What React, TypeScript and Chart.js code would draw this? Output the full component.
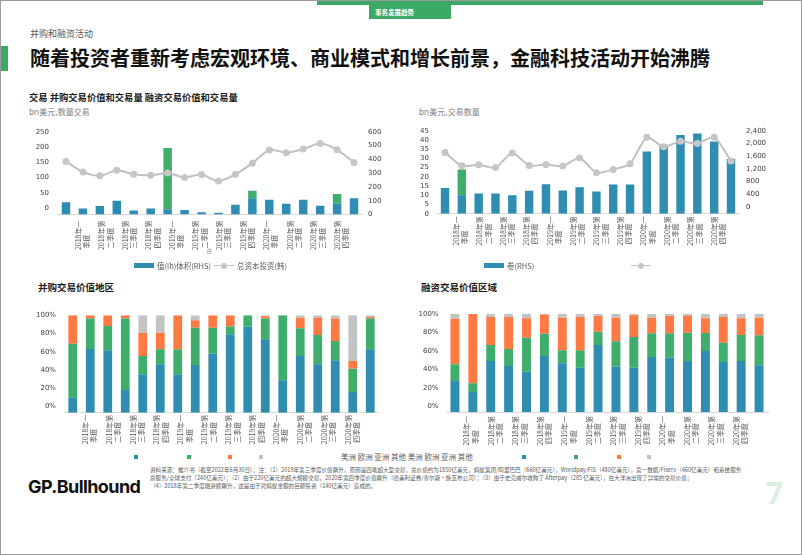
import React, { useEffect, useRef } from 'react';
import { Chart, registerables } from 'chart.js';

Chart.register(...registerables);

// ---------------- data ----------------
const PERIODS = ['1', '2', '3', '4', '5', '6', '7', '8', '9', '10', '11', '12', '13', '14', '15', '16', '17', '18'];

const TICK_LABELS = [
  '2018年一季度', '2018年第二季度', '2018年第三季度', '2018年第四季度',
  '2019年一季度', '2019年第二季度', '2019年第三季度', '2019年第四季度',
  '2020年一季度', '2020年第二季度', '2020年第三季度', '2020年第四季度',
];

// Chart 1: M&A value (bn USD) and volume
const MA_VALUE_MAIN = [40, 20, 28, 45, 13, 20, 17, 15, 7, 6, 32, 53, 48, 35, 48, 29, 35, 53];
const MA_VALUE_SPIKE = [0, 0, 0, 0, 0, 0, 201, 0, 0, 0, 0, 25, 0, 0, 0, 0, 32, 0];
const MA_VOLUME = [384, 308, 280, 320, 291, 284, 301, 268, 289, 242, 291, 372, 467, 448, 474, 514, 469, 377];

// Chart 2: financing value (bn USD) and volume
const FIN_VALUE_MAIN = [14, 10, 11, 11, 10, 12.5, 16, 12.6, 14.4, 12, 15.8, 15.8, 33.8, 37.4, 42.7, 43.6, 39.2, 29.7];
const FIN_VALUE_SPIKE = [0, 14, 0, 0, 0, 0, 0, 0, 0, 0, 0, 0, 0, 0, 0, 0, 0, 0];
const FIN_VOLUME = [1720, 1298, 1329, 1246, 1700, 1308, 1339, 1288, 1545, 1082, 1185, 1360, 2194, 1895, 2070, 1998, 2194, 1452];

// Chart 3: M&A value by region (%)
const MA_AMERICAS = [15.4, 65.4, 64, 23.3, 39.4, 49.7, 39.4, 49, 60.6, 80.5, 88.4, 75.3, 33.2, 58.2, 49.7, 53.8, 21.2, 65.1];
const MA_EUROPE = [55.5, 31.2, 25, 73.3, 18.8, 15.4, 25.7, 38.3, 26.7, 7.9, 11.6, 21.3, 66.8, 28.4, 30.1, 19.8, 24, 31.5];
const MA_ASIA = [29.1, 3.4, 11, 3.4, 24, 17.1, 34.9, 7.6, 12.7, 11.6, 0, 2.4, 0, 11, 17.8, 23, 7.9, 1.7];
const MA_OTHER = [0, 0, 0, 0, 17.8, 17.8, 0, 5.1, 0, 0, 0, 1, 0, 2.4, 2.4, 3.4, 46.9, 1.7];

// Chart 4: financing value by region (%)
const FIN_AMERICAS = [31.5, 20.3, 51.9, 46.8, 41, 57, 49.5, 45.1, 68.1, 46.4, 45.1, 55.9, 55.3, 51.9, 62, 50.9, 51.9, 47.5];
const FIN_EUROPE = [17, 8.9, 16.2, 17.3, 34.6, 22.7, 13.2, 17.6, 13.6, 25.5, 31.2, 24.1, 24.7, 28.8, 18.3, 19.6, 26.4, 30.5];
const FIN_ASIA = [46.4, 70.5, 28.5, 32.5, 19.7, 19.6, 33.2, 33.9, 16, 24, 22, 15.9, 17.6, 16.9, 15, 26.1, 17, 17.9];
const FIN_OTHER = [5.1, 0.3, 3.4, 3.4, 4.7, 0.7, 4.1, 3.4, 2.3, 4.1, 1.7, 4.1, 2.4, 2.4, 4.7, 3.4, 4.7, 4.1];

const C1_LEFT_TICKS = [0, 50, 100, 150, 200, 250];
const C1_RIGHT_TICKS = [0, 100, 200, 300, 400, 500, 600];
const C2_LEFT_TICKS = [0, 5, 10, 15, 20, 25, 30, 35, 40, 45];
const C2_RIGHT_TICKS = [0, 400, 800, 1200, 1600, 2000, 2400];
const PCT_TICKS = [0, 20, 40, 60, 80, 100];

const REGIONS = ['美洲', '欧洲', '亚洲', '其他'];

// ---------------- style ----------------
const BLUE = '#2E8DB1';
const GREEN = '#3FAD6B';
const ORANGE = '#FF7A43';
const LIGHT = '#C3C3C3';
const LINE_GRAY = '#C0C0C0';
const HEADER_GREEN = '#3BAA67';
const CJK = "'Noto Sans CJK SC', 'Noto Sans', sans-serif";
const NUM_FONT = { family: "'DejaVu Sans', sans-serif", size: 7 };
const CAT_FONT = { family: CJK, size: 7 };

function splitLabel(s: string): string[] {
  const first = s.slice(0, 6);
  let second = s.slice(6);
  while (second.length < 4) second += '\u3000';
  return [first, second];
}

function labelAxis(min: number, max: number, height: number, padding: number) {
  return {
    type: 'linear',
    position: 'bottom',
    min,
    max,
    grid: { display: false, drawTicks: false },
    border: { display: true, color: '#DADADA', width: 1 },
    afterBuildTicks: (ax: any) => {
      ax.ticks = TICK_LABELS.map((_, i) => ({ value: i }));
    },
    afterFit: (ax: any) => {
      ax.height = height;
    },
    ticks: {
      autoSkip: false,
      minRotation: 90,
      maxRotation: 90,
      padding,
      font: CAT_FONT,
      color: '#595959',
      callback: (v: any) => splitLabel(TICK_LABELS[Math.round(Number(v))] || ''),
    },
  };
}

function tickAxis(position: string, min: number, max: number, ticks: number[], width: number, padding: number, fmt: (v: number) => string) {
  return {
    type: 'linear',
    position,
    min,
    max,
    grid: { display: false, drawTicks: false },
    border: { display: false },
    afterBuildTicks: (ax: any) => {
      ax.ticks = ticks.map((v) => ({ value: v }));
    },
    afterFit: (ax: any) => {
      ax.width = width;
    },
    ticks: { autoSkip: false, padding, font: NUM_FONT, color: '#404040', callback: (v: any) => fmt(Number(v)) },
  };
}

function baseOptions(padTop: number, padRight: number) {
  return {
    responsive: false,
    animation: false,
    devicePixelRatio: 1,
    events: [],
    layout: { padding: { top: padTop, right: padRight, left: 0, bottom: 0 }, autoPadding: false },
    plugins: { legend: { display: false }, tooltip: { enabled: false } },
  };
}

const hiddenCat = { type: 'category', display: false, offset: true, stacked: true };

function lineDataset(data: number[], yAxisID: string) {
  return {
    type: 'line',
    data,
    xAxisID: 'x',
    yAxisID,
    borderColor: LINE_GRAY,
    borderWidth: 2,
    pointRadius: 3.5,
    pointBackgroundColor: '#C6C6C6',
    pointBorderWidth: 0,
    tension: 0.25,
    order: 0,
  };
}

function barDataset(data: number[], color: string, yAxisID: string) {
  return {
    type: 'bar',
    data,
    xAxisID: 'x',
    yAxisID,
    backgroundColor: color,
    barPercentage: 0.5,
    categoryPercentage: 1,
    stack: 's',
    order: 1,
  };
}

const fmtInt = (v: number) => String(v);
const fmtComma = (v: number) => v.toLocaleString('en-US');
const fmtPct = (v: number) => v + '%';

function chart1Config() {
  return {
    type: 'bar',
    data: {
      labels: PERIODS,
      datasets: [
        lineDataset(MA_VOLUME, 'y1'),
        barDataset(MA_VALUE_MAIN, BLUE, 'yb'),
        barDataset(MA_VALUE_SPIKE, GREEN, 'yb'),
      ],
    },
    options: {
      ...baseOptions(11, 0),
      scales: {
        x: { ...hiddenCat, labels: PERIODS },
        xl: labelAxis(-0.331, 11.54, 39.5, 6),
        y: tickAxis('left', -21, 250, C1_LEFT_TICKS, 36.5, 8.5, fmtInt),
        yb: { type: 'linear', display: false, min: 0, max: 271, stacked: true },
        y1: tickAxis('right', 0, 600, C1_RIGHT_TICKS, 28.5, 5.5, fmtInt),
      },
    },
  };
}

function chart2Config() {
  return {
    type: 'bar',
    data: {
      labels: PERIODS,
      datasets: [
        lineDataset(FIN_VOLUME, 'y1'),
        barDataset(FIN_VALUE_MAIN, BLUE, 'y'),
        barDataset(FIN_VALUE_SPIKE, GREEN, 'y'),
      ],
    },
    options: {
      ...baseOptions(11.5, 0),
      scales: {
        x: { ...hiddenCat, labels: PERIODS },
        xl: labelAxis(-0.289, 11.54, 40.3, 2.5),
        y: { ...tickAxis('left', 0, 45, C2_LEFT_TICKS, 35.6, 7.6, fmtInt), stacked: true },
        y1: tickAxis('right', -210, 2400, C2_RIGHT_TICKS, 41.6, 6.6, fmtComma),
      },
    },
  };
}

function regionConfig(a: number[], e: number[], as: number[], o: number[], padTop: number, padRight: number,
  lblMin: number, lblMax: number, xH: number, xPad: number, leftW: number, leftPad: number, pctMin: number) {
  return {
    type: 'bar',
    data: {
      labels: PERIODS,
      datasets: [
        barDataset(a, BLUE, 'yb'),
        barDataset(e, GREEN, 'yb'),
        barDataset(as, ORANGE, 'yb'),
        barDataset(o, LIGHT, 'yb'),
      ],
    },
    options: {
      ...baseOptions(padTop, padRight),
      scales: {
        x: { ...hiddenCat, labels: PERIODS },
        xl: labelAxis(lblMin, lblMax, xH, xPad),
        y: tickAxis('left', pctMin, 100, PCT_TICKS, leftW, leftPad, fmtPct),
        yb: { type: 'linear', display: false, min: 0, max: 100, stacked: true },
      },
    },
  };
}

function ChartCanvas({ left, top, width, height, make }: { left: number; top: number; width: number; height: number; make: () => any }) {
  const ref = useRef<HTMLCanvasElement | null>(null);
  useEffect(() => {
    if (!ref.current) return;
    const chart = new Chart(ref.current, make());
    return () => chart.destroy();
  }, []);
  return (
    <canvas
      ref={ref}
      width={width}
      height={height}
      style={{ position: 'absolute', left, top, width, height, display: 'block' }}
    />
  );
}

function T({ x, y, size, color = '#262626', weight = 400, family = CJK, children, style = {} }: any) {
  return (
    <div
      style={{
        position: 'absolute',
        left: x,
        top: y - size / 2,
        fontSize: size,
        lineHeight: `${size}px`,
        height: size,
        color,
        fontWeight: weight,
        fontFamily: family,
        whiteSpace: 'nowrap',
        ...style,
      }}
    >
      {children}
    </div>
  );
}

function Box({ x, y, w, h, color, style = {} }: any) {
  return <div style={{ position: 'absolute', left: x, top: y, width: w, height: h, background: color, ...style }} />;
}

function LineSwatch({ x, y }: { x: number; y: number }) {
  return (
    <>
      <Box x={x} y={y - 0.75} w={20} h={1.5} color={LINE_GRAY} />
      <Box x={x + 7} y={y - 3} w={6} h={6} color="#C6C6C6" style={{ borderRadius: '50%' }} />
    </>
  );
}

const FOOT_1 = '资料来源：推介书（截至2022年6月30日）；注：（1）2019年第三季度价值飙升，原因是四笔超大型交易，总价值约为1850亿美元，蚂蚁集团/阿里巴巴（660亿美元），Worldpay/FIS（480亿美元），第一数据/Fiserv（460亿美元）和系统服务';
const FOOT_2 = '总服务/全球支付（240亿美元）；（2）由于220亿美元的超大规模交易，2020年第四季度价值飙升（德美利证券/查尔斯·施瓦布公司）；（3）由于史克威尔收购了 Afterpay（285 亿美元），在大洋洲出现了异常的交易价值；';
const FOOT_3 = '（4）2018年第二季度融资额飙升，这是由于对蚂蚁金服的巨额投资（140亿美元）造成的。';

export default function App() {
  const legendColors = [BLUE, GREEN, ORANGE, LIGHT];
  const leftSq = [133, 185.5, 227, 258];
  const rightSq = [520.5, 573, 615.5, 645.5];
  return (
    <div
      style={{
        position: 'absolute',
        left: 0,
        top: 0,
        width: 802,
        height: 555,
        boxSizing: 'border-box',
        border: '1px solid #9a9a9a',
        background: '#fff',
        overflow: 'hidden',
        fontFamily: CJK,
      }}
    >
      {/* header */}
      <Box x={316} y={0} w={446} h={4} color={HEADER_GREEN} />
      <Box x={368} y={0} w={82} h={18} color={HEADER_GREEN} />
      <T x={374} y={11} size={6.5} color="#fff" weight={700}>事务发展趋势</T>
      <T x={29} y={32} size={9} color="#595959">并购和融资活动</T>
      <Box x={0} y={45} w={7} h={25} color={HEADER_GREEN} />
      <T x={29} y={57} size={20} color="#111" weight={700}>随着投资者重新考虑宏观环境、商业模式和增长前景，金融科技活动开始沸腾</T>

      {/* chart 1 */}
      <T x={28} y={97} size={9.3} color="#1a1a1a" weight={700}>交易 并购交易价值和交易量 融资交易价值和交易量</T>
      <T x={28} y={112} size={8} color="#7f7f7f" family="'DejaVu Sans', 'Noto Sans CJK SC', sans-serif">bn美元,数量交易</T>
      <ChartCanvas left={20} top={118} width={370} height={135} make={chart1Config} />
      <T x={204} y={250} size={5} color="#595959" style={{ transform: 'rotate(-90deg)' }}>(1)</T>
      <Box x={133} y={262} w={20} h={4.5} color={BLUE} />
      <T x={156} y={264.5} size={7.5} color="#595959">值(lh)体积(RHS)</T>
      <LineSwatch x={213} y={264.5} />
      <T x={236} y={264.5} size={7.5} color="#595959">总资本投资(韩)</T>

      {/* chart 2 */}
      <T x={418} y={112} size={8} color="#7f7f7f" family="'DejaVu Sans', 'Noto Sans CJK SC', sans-serif">bn美元,交易数量</T>
      <ChartCanvas left={400} top={118} width={380} height={135} make={chart2Config} />
      <Box x={483} y={262} w={20} h={4.5} color={BLUE} />
      <T x={506} y={264.5} size={7.5} color="#595959">卷(RHS)</T>
      <LineSwatch x={630} y={264.5} />

      {/* chart 3 */}
      <T x={37} y={287} size={9.5} color="#1a1a1a" weight={700}>并购交易价值地区</T>
      <ChartCanvas
        left={20}
        top={300}
        width={370}
        height={150}
        make={() => regionConfig(MA_AMERICAS, MA_EUROPE, MA_ASIA, MA_OTHER, 14.3, 12, -0.333, 11.74, 38.3, 2, 43, 8, -7)}
      />

      {/* chart 4 */}
      <T x={420} y={287} size={9.5} color="#1a1a1a" weight={700}>融资交易价值区域</T>
      <ChartCanvas
        left={400}
        top={300}
        width={380}
        height={150}
        make={() => regionConfig(FIN_AMERICAS, FIN_EUROPE, FIN_ASIA, FIN_OTHER, 12.7, 13, -0.3, 11.76, 39, 4, 45, 7.5, -6)}
      />

      {/* region legend */}
      {leftSq.map((x, i) => (
        <Box key={'l' + i} x={x} y={454} w={4} h={4} color={legendColors[i]} />
      ))}
      <T x={340} y={456} size={7.5} color="#595959">{[...REGIONS, ...REGIONS].join(' ')}</T>
      {rightSq.map((x, i) => (
        <Box key={'r' + i} x={x} y={454} w={4} h={4} color={legendColors[i]} />
      ))}

      {/* footnote */}
      <div
        style={{
          position: 'absolute',
          left: 149,
          top: 465,
          fontSize: 5.6,
          lineHeight: '8px',
          color: '#595959',
          whiteSpace: 'nowrap',
          fontFamily: CJK,
        }}
      >
        <div>{FOOT_1}</div>
        <div>{FOOT_2}</div>
        <div>{FOOT_3}</div>
      </div>

      <T x={27} y={486} size={18} color="#111" weight={700} family="Inter, 'Open Sans', sans-serif" style={{ letterSpacing: '-0.6px' }}>
        GP.Bullhound
      </T>
      <T x={765} y={492} size={30} color="#DCEFE2" weight={700} family="'Open Sans', sans-serif">7</T>
    </div>
  );
}
